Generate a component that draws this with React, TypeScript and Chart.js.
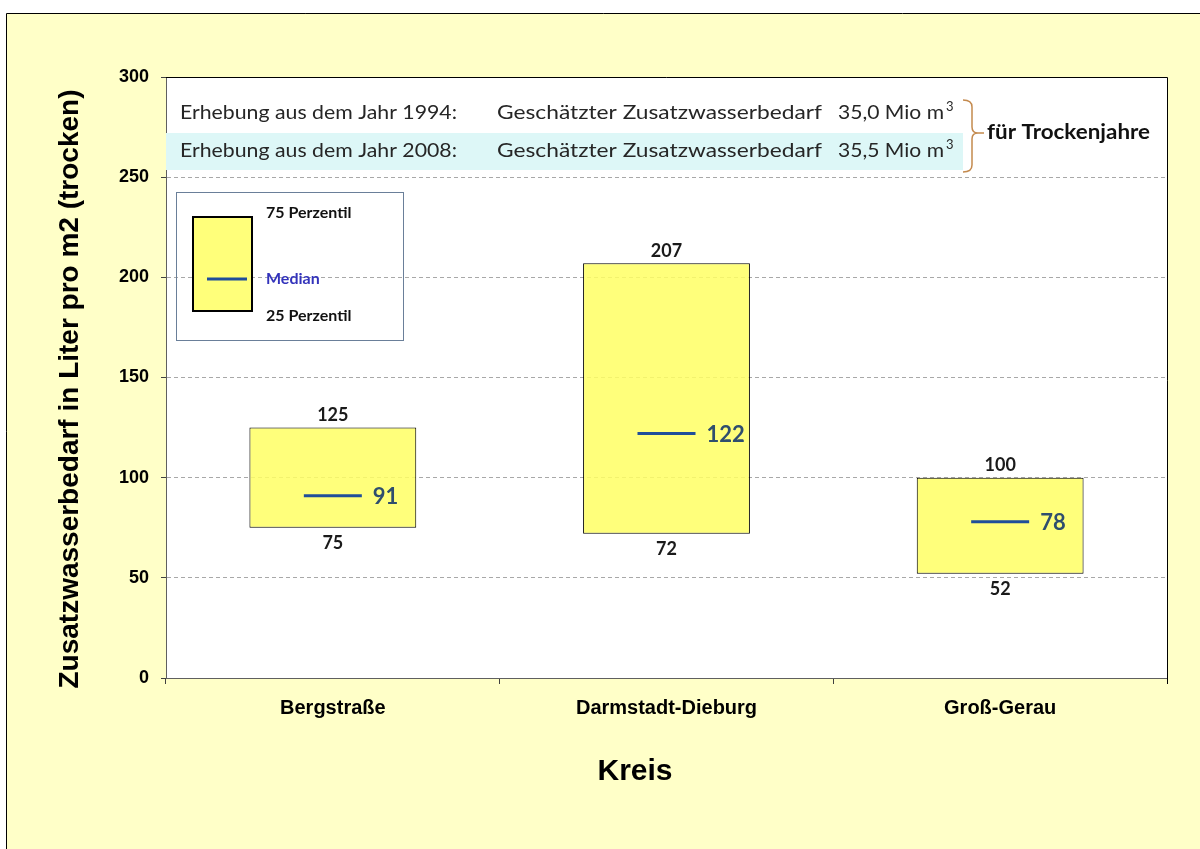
import React, { useEffect, useRef } from "react";
import { Chart, registerables } from "chart.js";
Chart.register(...registerables);

const categories = ["Bergstraße", "Darmstadt-Dieburg", "Groß-Gerau"];
const p25 = [75, 72, 52];
const p75 = [125, 207, 100];
const medians = [91, 122, 78];
const yMin = 0;
const yMax = 300;
const yStep = 50;
const yAxisTitle = "Zusatzwasserbedarf in Liter pro m2 (trocken)";
const xAxisTitle = "Kreis";
const surveyYears = ["1994", "2008"];
const surveyVolumes = ["35,0", "35,5"];
const legendLabels = ["75 Perzentil", "Median", "25 Perzentil"];
const braceLabel = "für Trockenjahre";

function fitText(ctx: CanvasRenderingContext2D, text: string, x: number, y: number, targetW: number) {
  const w = ctx.measureText(text).width;
  const s = targetW / w;
  ctx.save();
  ctx.translate(x, y);
  ctx.scale(s, 1);
  ctx.textAlign = "left";
  ctx.fillText(text, 0, 0);
  ctx.restore();
}

const decor = {
  id: "decor",
  beforeDraw(chart: any) {
    const { ctx, chartArea: a, width, height } = chart;
    ctx.save();
    ctx.fillStyle = "#ffffff";
    ctx.fillRect(0, 0, width, height);
    ctx.fillStyle = "#FFFFC8";
    ctx.fillRect(6.5, 13.5, width, height);
    ctx.strokeStyle = "#000";
    ctx.lineWidth = 1;
    ctx.beginPath();
    ctx.moveTo(6.5, height + 5);
    ctx.lineTo(6.5, 13.5);
    ctx.lineTo(width + 5, 13.5);
    ctx.stroke();
    ctx.fillStyle = "#ffffff";
    ctx.fillRect(a.left, a.top, a.right - a.left, a.bottom - a.top);
    ctx.restore();
  },
  afterDatasetsDraw(chart: any) {
    const { ctx, chartArea: a } = chart;
    const ys = chart.scales.y;
    const barMeta = chart.getDatasetMeta(0);
    const medMeta = chart.getDatasetMeta(1);
    ctx.save();
    // bar value labels
    ctx.font = "bold 18px Lato";
    ctx.fillStyle = "#1a1a1a";
    ctx.textAlign = "center";
    ctx.textBaseline = "middle";
    barMeta.data.forEach((bar: any, i: number) => {
      ctx.fillText(String(p75[i]), bar.x, ys.getPixelForValue(p75[i]) - 12);
      ctx.fillText(String(p25[i]), bar.x, ys.getPixelForValue(p25[i]) + 15);
    });
    // median labels
    ctx.font = "bold 22px Lato";
    ctx.fillStyle = "#2F4E6E";
    ctx.textAlign = "left";
    medMeta.data.forEach((pt: any, i: number) => {
      ctx.fillText(String(medians[i]), pt.x + 29 + 11, pt.y + 1);
    });

    // header band
    const L = a.left;
    const T = a.top;
    ctx.fillStyle = "#DDF7F7";
    ctx.fillRect(L, T + 56, 963 - L, 37);
    ctx.fillStyle = "#262626";
    ctx.font = "20px Lato";
    ctx.textBaseline = "middle";
    surveyYears.forEach((yr, i) => {
      const cy = T + 36 + i * 38;
      fitText(ctx, `Erhebung aus dem Jahr ${yr}:`, 180, cy, 277);
      fitText(ctx, "Geschätzter Zusatzwasserbedarf", 497, cy, 325);
      fitText(ctx, `${surveyVolumes[i]} Mio m`, 838, cy, 106);
      ctx.save();
      ctx.font = "13px Lato";
      ctx.fillText("3", 946, cy - 6);
      ctx.restore();
    });
    // brace
    ctx.strokeStyle = "#C48A4E";
    ctx.lineWidth = 1.5;
    ctx.beginPath();
    ctx.moveTo(963, T + 23);
    ctx.quadraticCurveTo(972, T + 23, 972, T + 30);
    ctx.lineTo(972, T + 50);
    ctx.quadraticCurveTo(972, T + 56, 978, T + 56);
    ctx.lineTo(984, T + 56);
    ctx.moveTo(978, T + 56);
    ctx.quadraticCurveTo(972, T + 56, 972, T + 62);
    ctx.lineTo(972, T + 88);
    ctx.quadraticCurveTo(972, T + 95, 963, T + 95);
    ctx.stroke();
    ctx.fillStyle = "#111";
    ctx.font = "bold 20px Lato";
    fitText(ctx, braceLabel, 987, T + 56, 163);

    // legend box
    ctx.strokeStyle = "#6A7F99";
    ctx.lineWidth = 1;
    ctx.strokeRect(176.5, 192.5, 227, 148);
    ctx.fillStyle = "#FFFF7A";
    ctx.fillRect(193, 217, 59, 94);
    ctx.strokeStyle = "#000";
    ctx.lineWidth = 2;
    ctx.strokeRect(193, 217, 59, 94);
    ctx.strokeStyle = "#1F4E9A";
    ctx.lineWidth = 3;
    ctx.beginPath();
    ctx.moveTo(207, 279);
    ctx.lineTo(247, 279);
    ctx.stroke();
    ctx.font = "bold 16px Lato";
    ctx.fillStyle = "#111";
    ctx.textAlign = "left";
    ctx.fillText(legendLabels[0], 266, 213);
    ctx.fillStyle = "#3333BB";
    ctx.fillText(legendLabels[1], 266, 279);
    ctx.fillStyle = "#111";
    ctx.fillText(legendLabels[2], 266, 316);

    // axis titles
    ctx.fillStyle = "#000";
    ctx.font = "bold 28px 'Liberation Sans'";
    ctx.save();
    ctx.translate(70, 389);
    ctx.rotate(-Math.PI / 2);
    ctx.textAlign = "center";
    ctx.fillText(yAxisTitle, 0, 0);
    ctx.restore();
    ctx.font = "bold 30px 'Liberation Sans'";
    ctx.textAlign = "center";
    ctx.fillText(xAxisTitle, 635, 772);
    ctx.restore();
  },
  afterDraw(chart: any) {
    const { ctx, chartArea: a } = chart;
    ctx.save();
    ctx.strokeStyle = "#000";
    ctx.lineWidth = 1;
    ctx.beginPath();
    ctx.moveTo(a.left, a.top + 0.5);
    ctx.lineTo(a.right + 0.5, a.top + 0.5);
    ctx.lineTo(a.right + 0.5, a.bottom + 6);
    ctx.stroke();
    ctx.restore();
  },
};

export default function App() {
  const ref = useRef<HTMLCanvasElement | null>(null);
  useEffect(() => {
    if (!ref.current) return;
    const chart = new Chart(ref.current, {
      type: "bar",
      data: {
        labels: categories,
        datasets: [
          {
            type: "bar",
            data: p25.map((lo, i) => [lo, p75[i]]) as any,
            backgroundColor: "rgba(255,255,100,0.85)",
            borderColor: "#000",
            borderWidth: 1,
            borderSkipped: false,
            barPercentage: 1,
            categoryPercentage: 0.5,
            order: 2,
          } as any,
          {
            type: "line",
            data: medians,
            showLine: false,
            pointStyle: "line",
            pointRadius: 29,
            pointHoverRadius: 29,
            pointBorderWidth: 3,
            pointBorderColor: "#1F4E9A",
            pointBackgroundColor: "#1F4E9A",
            order: 1,
          } as any,
        ],
      },
      options: {
        responsive: false,
        animation: false,
        events: [],
        layout: { padding: { left: 0, top: 77, right: 33, bottom: 0 } },
        plugins: { legend: { display: false }, tooltip: { enabled: false } },
        scales: {
          x: {
            type: "category",
            afterFit: (s: any) => {
              s.height = 171;
            },
            grid: {
              display: true,
              drawOnChartArea: false,
              drawTicks: true,
              tickLength: 6,
              offset: true,
              color: "#404040",
            },
            border: { display: true, color: "#606060", width: 1 },
            ticks: {
              color: "#000",
              font: { family: "'Liberation Sans'", size: 20, weight: "bold" },
              padding: 12,
            },
          },
          y: {
            min: yMin,
            max: yMax,
            afterFit: (s: any) => {
              s.width = 166;
            },
            ticks: {
              stepSize: yStep,
              color: "#000",
              font: { family: "'Liberation Sans'", size: 18, weight: "bold" },
              padding: 12,
            },
            grid: {
              color: (c: any) => (c.tick && (c.tick.value === yMin || c.tick.value === yMax) ? "rgba(0,0,0,0)" : "#A8A8A8"),
              tickColor: "#404040",
              tickLength: 5,
              lineWidth: 1,
            },
            border: { display: true, color: "#606060", width: 1, dash: [4, 3] },
          },
        },
      },
      plugins: [decor],
    } as any);
    return () => chart.destroy();
  }, []);
  return (
    <div style={{ position: "absolute", left: 0, top: 0, width: 1200, height: 849 }}>
      <canvas ref={ref} width={1200} height={849} style={{ display: "block" }} />
    </div>
  );
}
